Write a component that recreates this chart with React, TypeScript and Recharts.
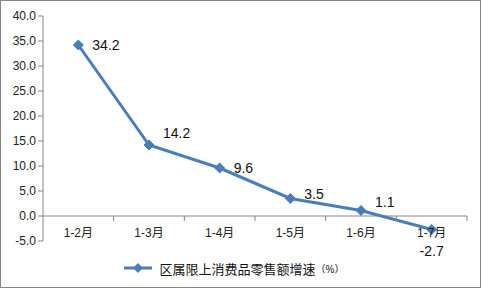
import React from "react";
import { LineChart, Line, XAxis, YAxis, ReferenceLine, Legend, LabelList } from "recharts";

// data
const categories = ["1-2月", "1-3月", "1-4月", "1-5月", "1-6月", "1-7月"];
const growth = [34.2, 14.2, 9.6, 3.5, 1.1, -2.7];
const yTicks = [-5, 0, 5, 10, 15, 20, 25, 30, 35, 40];
const seriesName = "区属限上消费品零售额增速";
const seriesUnit = "（%）";

const data = categories.map((month, i) => ({ month, value: growth[i] }));

// layout
const W = 482;
const H = 290;
const MARGIN = { top: 16, right: 15, left: 0, bottom: 12 };
const Y_AXIS_W = 43;
const X_AXIS_H = 17;
const LEGEND_H = 20;
const Y_MIN = -5;
const Y_MAX = 40;
const PLOT_TOP = MARGIN.top;
const PLOT_BOTTOM = H - MARGIN.bottom - LEGEND_H - X_AXIS_H;
const ZERO_Y = PLOT_TOP + ((Y_MAX - 0) / (Y_MAX - Y_MIN)) * (PLOT_BOTTOM - PLOT_TOP);
const BAND = (W - MARGIN.right - MARGIN.left - Y_AXIS_W) / categories.length;

// label nudges (px) so labels sit like the original
const LABEL_DY = [0, -12, 0, -5, -9];

const BLUE = "#4A7EBB";
const AXIS = "#868686";
const LATIN = "'Liberation Sans', Arial, sans-serif";
const CJK = "'Liberation Sans', 'Noto Sans CJK SC', sans-serif";

function MonthTick(props: any) {
  const { x, payload } = props;
  return (
    <g>
      <line x1={x + BAND / 2} x2={x + BAND / 2} y1={ZERO_Y} y2={ZERO_Y + 5} stroke={AXIS} />
      <text
        x={x}
        y={ZERO_Y + 17}
        textAnchor="middle"
        dominantBaseline="central"
        fontSize={12}
        fontFamily={CJK}
        fill="#222"
      >
        {payload.value}
      </text>
    </g>
  );
}

function Diamond(props: any) {
  const { cx, cy } = props;
  if (cx == null || cy == null) return null;
  const r = 5;
  return (
    <polygon
      points={`${cx},${cy - r} ${cx + r},${cy} ${cx},${cy + r} ${cx - r},${cy}`}
      fill={BLUE}
      stroke={BLUE}
    />
  );
}

function ValueLabel(props: any) {
  const { x, y, value, index } = props;
  const last = index === data.length - 1;
  return (
    <text
      x={last ? x : x + 14}
      y={last ? y + 21 : y + (LABEL_DY[index] || 0)}
      textAnchor={last ? "middle" : "start"}
      dominantBaseline="central"
      fontSize={14}
      fontFamily={LATIN}
      fill="#111"
    >
      {Number(value).toFixed(1)}
    </text>
  );
}

function LegendBox() {
  return (
    <div
      style={{
        height: LEGEND_H,
        display: "flex",
        alignItems: "center",
        justifyContent: "center",
        fontFamily: CJK,
        color: "#111",
      }}
    >
      <svg width={30} height={12} style={{ marginRight: 7 }}>
        <line x1={1} x2={29} y1={6} y2={6} stroke={BLUE} strokeWidth={3} />
        <polygon points="15,1 20,6 15,11 10,6" fill={BLUE} />
      </svg>
      <span style={{ fontSize: 13 }}>{seriesName}</span>
      <span style={{ fontSize: 10 }}>{seriesUnit}</span>
    </div>
  );
}

export default function App() {
  return (
    <div
      style={{
        position: "fixed",
        left: 0,
        top: 0,
        width: 481,
        height: 288,
        boxSizing: "border-box",
        border: `1px solid ${AXIS}`,
        background: "#fff",
      }}
    >
      <div style={{ position: "absolute", left: -1, top: -1 }}>
        <LineChart width={W} height={H} data={data} margin={MARGIN}>
          <XAxis
            dataKey="month"
            scale="band"
            axisLine={false}
            tickLine={false}
            height={X_AXIS_H}
            interval={0}
            tick={<MonthTick />}
          />
          <YAxis
            width={Y_AXIS_W}
            domain={[Y_MIN, Y_MAX]}
            ticks={yTicks}
            interval={0}
            tickFormatter={(v: number) => v.toFixed(1)}
            tickSize={5}
            tickMargin={2}
            axisLine={{ stroke: AXIS }}
            tickLine={{ stroke: AXIS }}
            tick={{ fontSize: 12, fontFamily: LATIN, fill: "#222" }}
          />
          <ReferenceLine y={0} stroke={AXIS} />
          <Legend verticalAlign="bottom" height={LEGEND_H} content={<LegendBox />} />
          <Line
            dataKey="value"
            name={seriesName}
            stroke={BLUE}
            strokeWidth={3}
            dot={<Diamond />}
            activeDot={false}
            isAnimationActive={false}
          >
            <LabelList dataKey="value" content={<ValueLabel />} />
          </Line>
        </LineChart>
      </div>
    </div>
  );
}
